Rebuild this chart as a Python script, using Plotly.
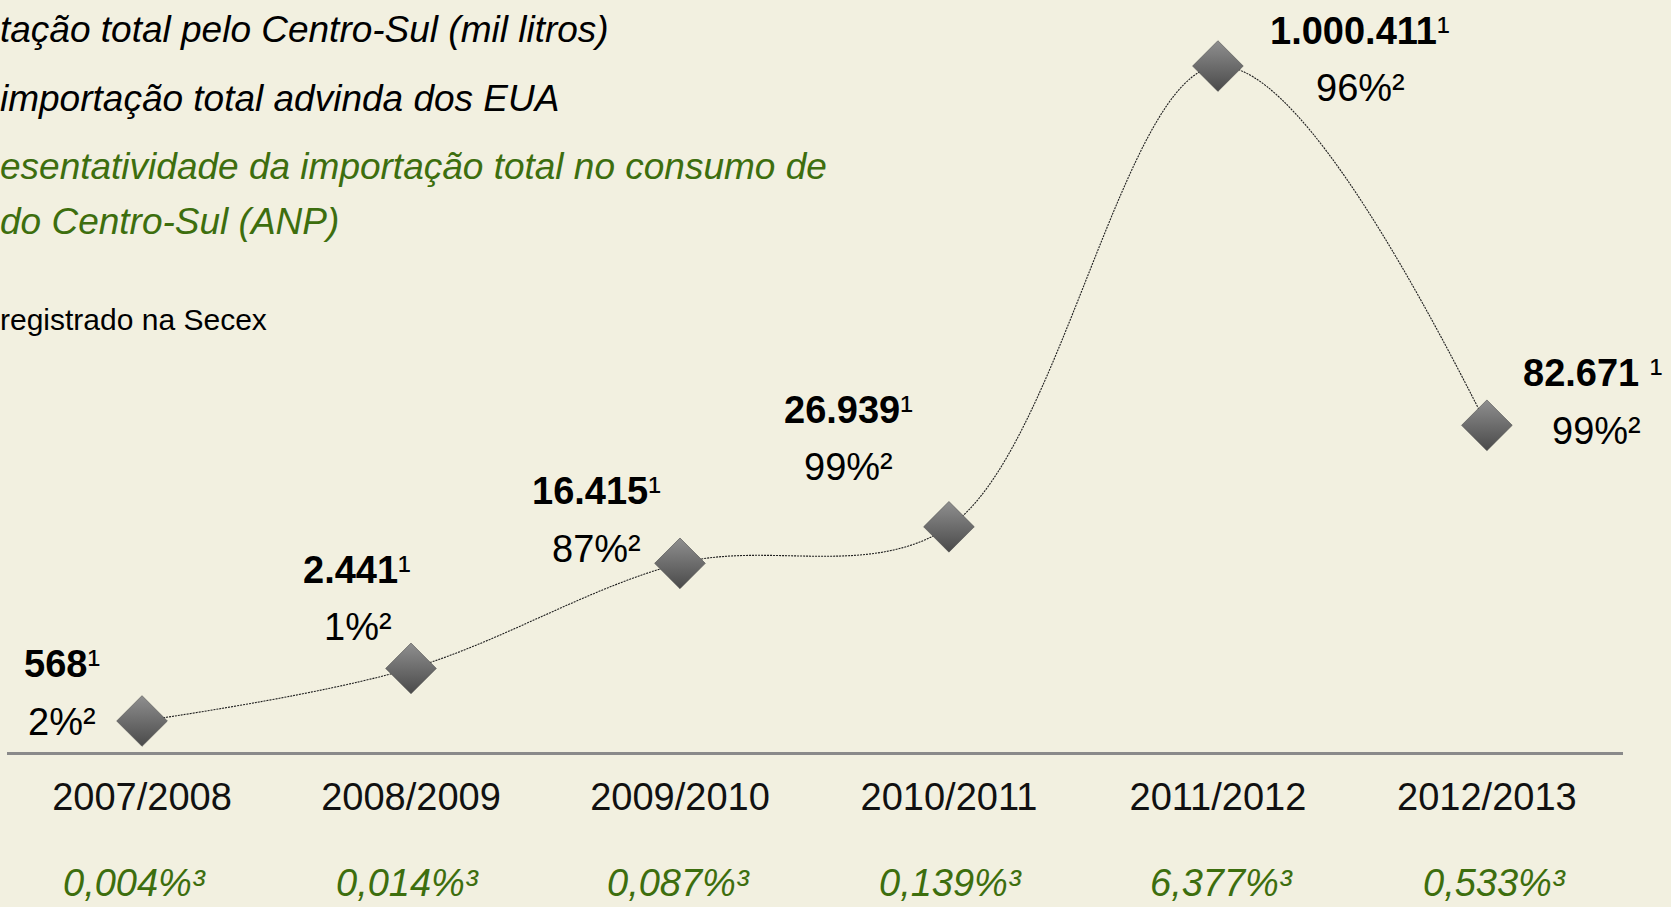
import numpy as np
import plotly.graph_objects as go

# ---------------- data ----------------
categories = ["2007/2008", "2008/2009", "2009/2010", "2010/2011", "2011/2012", "2012/2013"]
import_total = [568, 2441, 16415, 26939, 1000411, 82671]          # mil litros (¹)
eua_share_pct = [2, 1, 87, 99, 96, 99]                             # % advinda dos EUA (²)
consumo_share_pct = [0.004, 0.014, 0.087, 0.139, 6.377, 0.533]     # % do consumo (³)
legend_lines = [
    "tação total pelo Centro-Sul (mil litros)",
    "importação total advinda dos EUA",
    "esentatividade da importação total no consumo de",
    "do Centro-Sul (ANP)",
    "registrado na Secex",
]

# ---------------- style ----------------
W, H = 1671, 907
BG = "#f2f0e0"
GREEN = "#3d6e0e"
FONT = "Arial, Liberation Sans, sans-serif"
M_L, M_R, M_T, M_B = 7, 48, 0, 155
PLOT_H = H - M_T - M_B

# power (4th-root) display scale, as in the original slide
y_disp = np.power(np.array(import_total, dtype=float), 0.25)

value_text = [f"{v:,}".replace(",", ".") for v in import_total]
value_sep = ["", "", "", "", "", " "]
pct_text = [f"{p}%²" for p in eua_share_pct]
cons_text = [f"{p:.3f}".replace(".", ",") + "%³" for p in consumo_share_pct]

value_offsets = [(-80, 57), (-54, 98), (-83, 72), (-100, 117), (142, 35), (106, 52)]
pct_offsets = [(-80, -1), (-53, 41), (-83, 14), (-100, 60), (143, -22), (110, -6)]
green_x_shift = [-8, -4, -1, 2, 4, 8]

fig = go.Figure()
fig.add_trace(go.Scatter(
    x=categories, y=y_disp, mode="lines+markers",
    line=dict(color="#1e1e1e", width=1.1, dash="2px,1px", shape="spline", smoothing=1.0),
    marker=dict(symbol="diamond", size=39, color="#8f8f8f",
                gradient=dict(type="vertical", color="#4a4a4a"),
                line=dict(width=0.6, color="#4d4d4d")),
    cliponaxis=False, hoverinfo="skip", showlegend=False,
))

ann = []
for i, c in enumerate(categories):
    dx, dy = value_offsets[i]
    ann.append(dict(x=c, y=y_disp[i], xref="x", yref="y",
                    text=f"<b>{value_text[i]}</b>{value_sep[i]}¹", showarrow=False,
                    xshift=dx, yshift=dy, font=dict(size=38, color="#000", family=FONT)))
    dx, dy = pct_offsets[i]
    ann.append(dict(x=c, y=y_disp[i], xref="x", yref="y",
                    text=pct_text[i], showarrow=False,
                    xshift=dx, yshift=dy, font=dict(size=38, color="#000", family=FONT)))
    ann.append(dict(x=c, y=(PLOT_H - 883) / PLOT_H, xref="x", yref="paper",
                    text=f"<i>{cons_text[i]}</i>", showarrow=False, yanchor="middle",
                    xshift=green_x_shift[i],
                    font=dict(size=38, color=GREEN, family=FONT)))

legend_y = [29, 98, 167, 221, 320]
legend_color = ["#000", "#000", GREEN, GREEN, "#000"]
legend_size = [37, 37, 37, 37, 30]
legend_italic = [True, True, True, True, False]
for t, yy, col, sz, it in zip(legend_lines, legend_y, legend_color, legend_size, legend_italic):
    ann.append(dict(x=(-2 - M_L) / (W - M_L - M_R), y=(PLOT_H - yy) / PLOT_H,
                    xref="paper", yref="paper", xanchor="left", yanchor="middle",
                    text=f"<i>{t}</i>" if it else t, showarrow=False,
                    font=dict(size=sz, color=col, family=FONT)))

y0 = y_disp.min() - 31 / 24.49
fig.update_layout(
    width=W, height=H,
    margin=dict(l=M_L, r=M_R, t=M_T, b=M_B, pad=0),
    paper_bgcolor=BG, plot_bgcolor=BG,
    annotations=ann,
    xaxis=dict(range=[-0.502, 5.506], showgrid=False, zeroline=False,
               showline=True, linecolor="#8a8a8a", linewidth=3,
               ticks="", tickfont=dict(size=38, color="#111", family=FONT),
               ticklabelstandoff=9, fixedrange=True),
    yaxis=dict(range=[y0, y0 + PLOT_H / 24.49], visible=False, fixedrange=True),
)

fig.write_html(
    "out.html",
    config={"displayModeBar": False},
    post_script="document.body.style.margin='0';document.body.style.overflow='hidden';",
)
